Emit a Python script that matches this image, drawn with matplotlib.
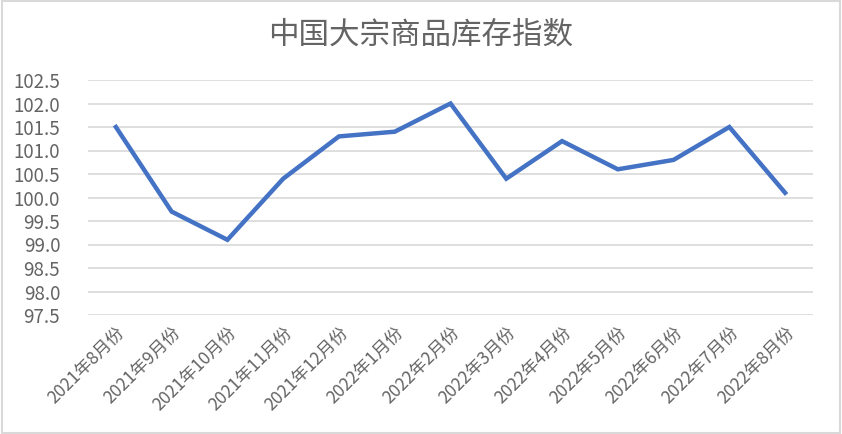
import matplotlib
matplotlib.use("Agg")
import matplotlib.pyplot as plt
from matplotlib.patches import Rectangle

plt.rcParams['font.family'] = ['Noto Sans CJK SC', 'DejaVu Sans']

months = ["2021年8月份", "2021年9月份", "2021年10月份", "2021年11月份", "2021年12月份",
          "2022年1月份", "2022年2月份", "2022年3月份", "2022年4月份", "2022年5月份",
          "2022年6月份", "2022年7月份", "2022年8月份"]
index_values = [101.5, 99.7, 99.1, 100.4, 101.3, 101.4, 102.0, 100.4, 101.2, 100.6, 100.8, 101.5, 100.1]
y_ticks = [97.5, 98.0, 98.5, 99.0, 99.5, 100.0, 100.5, 101.0, 101.5, 102.0, 102.5]

TEXT = "#646464"

fig = plt.figure(figsize=(8.42, 4.34), dpi=100)
ax = fig.add_axes([88 / 842, 1 - 315 / 434, 725 / 842, 235 / 434])

x = list(range(len(months)))
ax.plot(x, index_values, color="#4472C4", lw=3.2, solid_joinstyle="miter", zorder=3)

ax.set_xlim(-0.5, len(months) - 0.5)
ax.set_ylim(97.5, 102.5)
ax.set_yticks(y_ticks)
ax.set_yticklabels([f"{v:.1f}" for v in y_ticks], fontsize=13.5, color=TEXT)
ax.set_xticks(x)
ax.set_xticklabels(months, rotation=45, ha="right", rotation_mode="anchor",
                   fontsize=12.5, color=TEXT)
ax.tick_params(axis="y", length=0, pad=20)
ax.tick_params(axis="x", length=0, pad=6)
ax.grid(axis="y", color="#d9d9d9", lw=1.2)
ax.set_axisbelow(True)
for s in ax.spines.values():
    s.set_visible(False)

fig.text(0.5, 1 - 35 / 434, "中国大宗商品库存指数", ha="center", va="center",
         fontsize=22, color=TEXT)

fig.patches.append(Rectangle((0.002, 0.003), 0.996, 0.994, transform=fig.transFigure,
                             fill=False, edgecolor="#d9d9d9", lw=1.5))

fig.savefig("out.png", dpi=100)
